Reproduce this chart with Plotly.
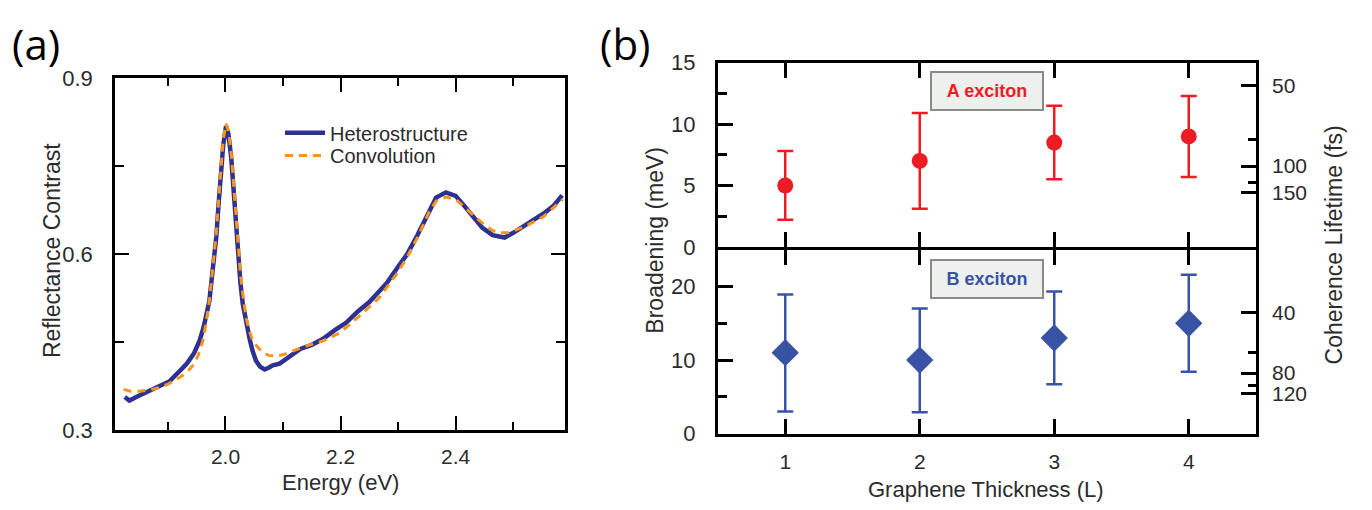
import plotly.graph_objects as go

# ---------------- Panel (a) data ----------------
energy_het = [1.825, 1.833, 1.845, 1.868, 1.886, 1.903, 1.920, 1.932, 1.945, 1.955,
              1.962, 1.966, 1.972, 1.978, 1.984, 1.988, 1.992, 1.996, 2.001, 2.005,
              2.010, 2.016, 2.021, 2.026, 2.030, 2.036, 2.042, 2.047, 2.053, 2.060,
              2.068, 2.075, 2.082, 2.094, 2.111, 2.130, 2.150, 2.169, 2.190, 2.210,
              2.230, 2.250, 2.266, 2.280, 2.299, 2.316, 2.333, 2.354, 2.366, 2.383,
              2.400, 2.415, 2.429, 2.446, 2.464, 2.485, 2.500, 2.519, 2.536, 2.553,
              2.570, 2.585]
refl_het = [0.356, 0.350, 0.356, 0.366, 0.375, 0.383, 0.400, 0.412, 0.430, 0.452,
            0.475, 0.490, 0.520, 0.575, 0.629, 0.685, 0.737, 0.785, 0.818, 0.805,
            0.764, 0.683, 0.602, 0.550, 0.515, 0.480, 0.455, 0.435, 0.418, 0.408,
            0.403, 0.406, 0.410, 0.413, 0.424, 0.438, 0.445, 0.455, 0.470, 0.483,
            0.502, 0.518, 0.535, 0.550, 0.577, 0.600, 0.631, 0.675, 0.696, 0.705,
            0.699, 0.682, 0.664, 0.645, 0.632, 0.628, 0.636, 0.648, 0.658, 0.669,
            0.682, 0.700]

energy_conv = [1.823, 1.835, 1.850, 1.868, 1.885, 1.900, 1.915, 1.932, 1.945, 1.953,
               1.960, 1.966, 1.972, 1.978, 1.984, 1.988, 1.992, 1.996, 2.001, 2.005,
               2.010, 2.016, 2.021, 2.026, 2.031, 2.036, 2.042, 2.047, 2.055, 2.065,
               2.075, 2.088, 2.100, 2.117, 2.140, 2.170, 2.198, 2.230, 2.266, 2.299,
               2.316, 2.333, 2.354, 2.366, 2.383, 2.400, 2.429, 2.446, 2.464, 2.475,
               2.490, 2.500, 2.519, 2.553, 2.586]
refl_conv = [0.369, 0.366, 0.366, 0.368, 0.372, 0.378, 0.386, 0.397, 0.412, 0.428,
             0.450, 0.480, 0.520, 0.575, 0.635, 0.690, 0.745, 0.795, 0.822, 0.810,
             0.772, 0.695, 0.620, 0.565, 0.525, 0.490, 0.467, 0.453, 0.442, 0.432,
             0.427, 0.426, 0.428, 0.434, 0.443, 0.452, 0.465, 0.492, 0.524, 0.568,
             0.595, 0.627, 0.672, 0.690, 0.697, 0.693, 0.668, 0.653, 0.640, 0.636,
             0.636, 0.639, 0.646, 0.664, 0.693]

# ---------------- Panel (b) data ----------------
thickness = [1, 2, 3, 4]
a_broad = [5.0, 7.0, 8.5, 9.0]
a_upper = [7.8, 10.9, 11.5, 12.3]
a_lower = [2.2, 3.1, 5.5, 5.7]
b_broad = [11.0, 10.0, 13.0, 15.0]
b_upper = [18.9, 17.0, 19.3, 21.6]
b_lower = [3.0, 2.9, 6.7, 8.4]

HBAR = 658.2  # meV*fs
a_life_major = [50, 100, 150]
a_life_minor = [75, 125]
b_life_major = [40, 80, 120]
b_life_minor = [60, 100]

BLUE_LINE = "#2e3192"
ORANGE = "#f7941d"
RED = "#ed1c24"
BLUE = "#3953a4"
FONT = "Liberation Sans, Arial, sans-serif"
TXT = "#2b2b2b"

fig = go.Figure()

fig.add_trace(go.Scatter(x=energy_het, y=refl_het, mode="lines", name="Heterostructure",
                         legend="legend",
                         line=dict(color=BLUE_LINE, width=4.5), xaxis="x", yaxis="y"))
fig.add_trace(go.Scatter(x=energy_conv, y=refl_conv, mode="lines", name="Convolution",
                         legend="legend2",
                         line=dict(color=ORANGE, width=3, dash="8px,6px"), xaxis="x", yaxis="y"))

fig.add_trace(go.Scatter(
    x=thickness, y=a_broad, mode="markers", showlegend=False, xaxis="x2", yaxis="y2",
    marker=dict(color=RED, size=16, symbol="circle"),
    error_y=dict(type="data", symmetric=False,
                 array=[u - v for u, v in zip(a_upper, a_broad)],
                 arrayminus=[v - l for v, l in zip(a_broad, a_lower)],
                 color=RED, thickness=2.5, width=8)))
fig.add_trace(go.Scatter(
    x=thickness, y=b_broad, mode="markers", showlegend=False, xaxis="x3", yaxis="y3",
    marker=dict(color=BLUE, size=21, symbol="diamond"),
    error_y=dict(type="data", symmetric=False,
                 array=[u - v for u, v in zip(b_upper, b_broad)],
                 arrayminus=[v - l for v, l in zip(b_broad, b_lower)],
                 color=BLUE, thickness=2.5, width=8)))
# invisible companions so the right-hand (lifetime) axes get drawn
fig.add_trace(go.Scatter(x=thickness, y=a_broad, mode="markers", showlegend=False,
                         xaxis="x2", yaxis="y4", marker=dict(opacity=0), hoverinfo="skip"))
fig.add_trace(go.Scatter(x=thickness, y=b_broad, mode="markers", showlegend=False,
                         xaxis="x3", yaxis="y5", marker=dict(opacity=0), hoverinfo="skip"))

W, H = 1372, 510
OFF_X = 8  # page body margin shifts the figure horizontally by this much
def px(x):
    return (x - OFF_X) / W
def py(y):
    return 1 - y / H

common = dict(showgrid=False, zeroline=False, showline=True, linecolor="black",
              ticks="inside", tickcolor="black",
              tickfont=dict(family=FONT, size=22, color=TXT))

leg_common = dict(xanchor="left", yanchor="top", bgcolor="rgba(0,0,0,0)",
                  font=dict(family=FONT, size=20, color=TXT), itemwidth=40)

fig.update_layout(
    width=W, height=H, margin=dict(l=0, r=0, t=0, b=0),
    plot_bgcolor="white", paper_bgcolor="white",
    font=dict(family=FONT, color=TXT),
    showlegend=True,
    legend=dict(x=px(280), y=py(98), **leg_common),
    legend2=dict(x=px(280), y=py(122), **leg_common),
    xaxis=dict(**common, domain=[px(115), px(565)], range=[1.808, 2.59], anchor="y",
               tickmode="linear", tick0=2.0, dtick=0.2, tickformat=".1f",
               ticklen=14, tickwidth=2, linewidth=2.5, mirror="ticks", ticklabelstandoff=6,
               minor=dict(ticks="inside", dtick=0.1, tick0=1.9, ticklen=8, tickwidth=2,
                          tickcolor="black")),
    yaxis=dict(**common, domain=[py(431), py(61)], range=[0.3, 0.9], anchor="x",
               tickmode="linear", tick0=0.3, dtick=0.3, tickformat=".1f",
               ticklen=14, tickwidth=2, linewidth=2.5, mirror="ticks", ticklabelstandoff=15,
               minor=dict(ticks="inside", dtick=0.15, tick0=0.3, ticklen=9, tickwidth=2,
                          tickcolor="black")),
    xaxis2=dict(**common, domain=[px(718), px(1256)], range=[0.5, 4.5], anchor="y2",
                tickmode="array", tickvals=thickness, showticklabels=False,
                ticklen=15, tickwidth=2.5, linewidth=3, mirror="ticks"),
    xaxis3=dict(**common, domain=[px(718), px(1256)], range=[0.5, 4.5], anchor="y3",
                tickmode="array", tickvals=thickness, ticklabelstandoff=7,
                ticklen=15, tickwidth=2.5, linewidth=3, mirror="ticks"),
    yaxis2=dict(**common, domain=[py(238.5), py(45)], range=[0, 15], anchor="x2",
                tickmode="linear", tick0=0, dtick=5, ticklen=15, tickwidth=2.5,
                linewidth=3, mirror=True, ticklabelstandoff=15,
                minor=dict(ticks="inside", dtick=2.5, tick0=0, ticklen=9, tickwidth=2.5,
                           tickcolor="black")),
    yaxis3=dict(**common, domain=[py(435), py(241.5)], range=[0, 25], anchor="x3",
                tickmode="array", tickvals=[0, 10, 20], ticklen=15, tickwidth=2.5,
                linewidth=3, mirror=True, ticklabelstandoff=15,
                minor=dict(ticks="inside", tickmode="array", tickvals=[5, 15],
                           ticklen=9, tickwidth=2.5, tickcolor="black")),
    yaxis4=dict(**common, overlaying="y2", side="right", anchor="x2", range=[0, 15],
                tickmode="array", tickvals=[HBAR / t for t in a_life_major],
                ticktext=[str(t) for t in a_life_major], ticklen=15, tickwidth=2.5,
                ticklabelstandoff=15,
                minor=dict(ticks="inside", tickmode="array",
                           tickvals=[HBAR / t for t in a_life_minor],
                           ticklen=8, tickwidth=2.5, tickcolor="black")),
    yaxis5=dict(**common, overlaying="y3", side="right", anchor="x3", range=[0, 25],
                tickmode="array", tickvals=[HBAR / t for t in b_life_major],
                ticktext=[str(t) for t in b_life_major], ticklen=15, tickwidth=2.5,
                ticklabelstandoff=15,
                minor=dict(ticks="inside", tickmode="array",
                           tickvals=[HBAR / t for t in b_life_minor],
                           ticklen=8, tickwidth=2.5, tickcolor="black")),
)
fig.layout.yaxis4.showline = False
fig.layout.yaxis5.showline = False
fig.layout.yaxis4.tickfont.size = 21
fig.layout.yaxis5.tickfont.size = 21
fig.layout.xaxis.tickfont.size = 21
fig.layout.xaxis3.tickfont.size = 21

def label(text, x, y, size=23, angle=0, color=TXT, family=FONT):
    return dict(text=text, x=px(x), y=py(y), xref="paper", yref="paper",
                xanchor="center", yanchor="middle", textangle=angle, showarrow=False,
                font=dict(family=family, size=size, color=color))

ann = [
    label("(a)", 36, 25, size=42, color="black", family="Open Sans, Noto Sans, sans-serif"),
    label("(b)", 625, 25, size=42, color="black", family="Open Sans, Noto Sans, sans-serif"),
    label("Reflectance Contrast", 52, 243, angle=-90),
    label("Energy (eV)", 340, 486, size=22),
    label("Broadening (meV)", 655, 232, angle=-90),
    label("Coherence Lifetime (fs)", 1334, 237, angle=-90),
    label("Graphene Thickness (L)", 986, 494, size=22),
]
ann.append(dict(text="<b>A exciton</b>", x=2.5, y=py(75), xref="x2", yref="paper",
                xanchor="center", yanchor="middle",
                showarrow=False, font=dict(family=FONT, size=18, color=RED),
                bgcolor="#eef0ee", bordercolor="#8a8a8a", borderwidth=2, borderpad=2,
                width=106, height=32))
ann.append(dict(text="<b>B exciton</b>", x=2.5, y=py(272), xref="x3", yref="paper",
                xanchor="center", yanchor="middle",
                showarrow=False, font=dict(family=FONT, size=18, color=BLUE),
                bgcolor="#eef0ee", bordercolor="#8a8a8a", borderwidth=2, borderpad=2,
                width=106, height=32))
fig.update_layout(annotations=ann)

fig.write_html("out.html")
